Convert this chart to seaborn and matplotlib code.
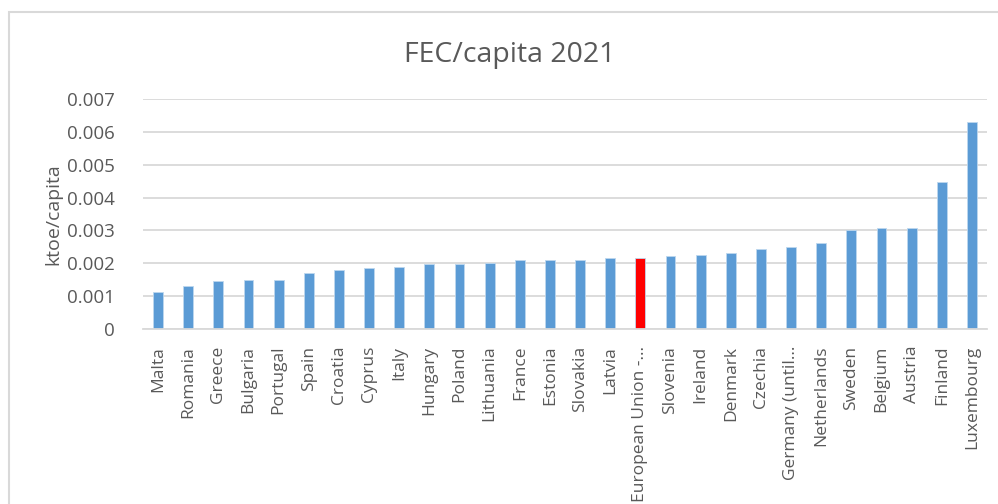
import matplotlib
matplotlib.use("Agg")
import matplotlib.pyplot as plt
import seaborn as sns
import pandas as pd
from matplotlib.patches import Rectangle
from matplotlib.ticker import FixedLocator, FixedFormatter

# Final energy consumption per capita, 2021 (ktoe per inhabitant)
countries = [
    "Malta", "Romania", "Greece", "Bulgaria", "Portugal", "Spain", "Croatia",
    "Cyprus", "Italy", "Hungary", "Poland", "Lithuania", "France", "Estonia",
    "Slovakia", "Latvia", "European Union -...", "Slovenia", "Ireland",
    "Denmark", "Czechia", "Germany (until...", "Netherlands", "Sweden",
    "Belgium", "Austria", "Finland", "Luxembourg",
]
fec_per_capita = [
    0.00114, 0.00130, 0.00145, 0.00149, 0.00149, 0.00170, 0.00180,
    0.00187, 0.00190, 0.00197, 0.00197, 0.00200, 0.00211, 0.00211,
    0.00211, 0.00215, 0.00215, 0.00222, 0.00225, 0.00231,
    0.00245, 0.00249, 0.00263, 0.00301,
    0.00309, 0.00309, 0.00448, 0.00629,
]
highlight = "European Union -..."
y_ticks = [0, 0.001, 0.002, 0.003, 0.004, 0.005, 0.006, 0.007]
y_tick_labels = ["0", "0.001", "0.002", "0.003", "0.004", "0.005", "0.006", "0.007"]

BLUE = "#5B9BD5"
RED = "#FF0000"
TEXT = "#595959"
GRID = "#D9D9D9"

sns.set_theme(style="white")
plt.rcParams["font.family"] = ["Open Sans", "DejaVu Sans"]

df = pd.DataFrame({"country": countries, "value": fec_per_capita})
palette = {c: (RED if c == highlight else BLUE) for c in countries}

fig = plt.figure(figsize=(9.98, 5.04), dpi=100)
ax = fig.add_axes([0.1433, 0.347, 0.8457, 0.4566])

sns.barplot(
    data=df, x="country", y="value", hue="country", palette=palette,
    legend=False, width=0.33, ax=ax, saturation=1,
    edgecolor="#BDD7EE", linewidth=0.6,
)

ax.set_ylim(0, 0.007)
ax.set_xlim(-0.5, len(countries) - 0.5)
ax.yaxis.set_major_locator(FixedLocator(y_ticks))
ax.yaxis.set_major_formatter(FixedFormatter(y_tick_labels))
ax.grid(axis="y", color=GRID, linewidth=1.3)
ax.set_axisbelow(True)

for side in ["top", "right", "left"]:
    ax.spines[side].set_visible(False)
ax.spines["bottom"].set_color(GRID)
ax.spines["bottom"].set_linewidth(1.3)

ax.tick_params(axis="y", length=0, pad=20, labelsize=13.5, labelcolor=TEXT)
ax.tick_params(axis="x", length=0, pad=12, labelsize=12.5, labelcolor=TEXT,
               labelrotation=90)
for lbl in ax.get_xticklabels():
    lbl.set_va("top")
    lbl.set_ha("center")

ax.set_xlabel("")
ax.set_ylabel("ktoe/capita", fontsize=14, color=TEXT)
ax.yaxis.set_label_coords(-0.096, 0.5)

fig.text(0.511, 0.891, "FEC/capita 2021", ha="center", va="center",
         fontsize=20.5, color=TEXT)

# Chart-area frame
fig.patches.append(Rectangle((0.009, -0.05), 1.05, 1.026, transform=fig.transFigure,
                             fill=False, edgecolor=GRID, linewidth=1.5))

fig.savefig("out.png", dpi=100, facecolor="white")
